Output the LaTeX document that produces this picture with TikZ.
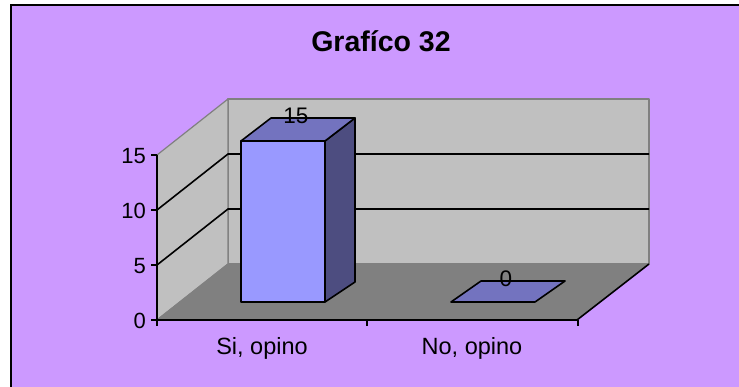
\documentclass[tikz,border=0pt]{standalone}
\usepackage{fontspec}
\setmainfont{Liberation Sans}

\definecolor{chartbg}{HTML}{CC99FF}
\definecolor{wallgray}{HTML}{C0C0C0}
\definecolor{floorgray}{HTML}{808080}
\definecolor{barfront}{HTML}{9999FF}
\definecolor{bartop}{HTML}{7373BF}
\definecolor{barside}{HTML}{4D4D80}

\tikzset{
  wall/.style={fill=wallgray, draw=gray, line width=1.2pt, line join=round},
  gridline/.style={black, line width=1.6pt},
  barface/.style={draw=black, line width=1.6pt, line join=round},
  ticklabel/.style={font=\fontsize{22}{22}\selectfont, inner sep=0pt},
  catlabel/.style={font=\fontsize{23.5}{23.5}\selectfont, inner sep=0pt, anchor=base},
  datalabel/.style={font=\fontsize{22.5}{22.5}\selectfont, inner sep=0pt}
}

\begin{document}
\begin{tikzpicture}[x=1pt, y=-1pt]
\useasboundingbox (0,0) rectangle (739,387);

% Chart area
\fill[white] (0,0) rectangle (739,387);
\fill[chartbg] (11,5) rectangle (739,387);
\draw[black, line width=2pt] (11,387) -- (11,5) -- (739,5);

\node[font=\bfseries\fontsize{28.5}{28.5}\selectfont, inner sep=0pt, anchor=base] (title) at (381,52) {Grafíco 32};

% Walls and floor
\filldraw[wall] (228,99) rectangle (649,264);
\filldraw[wall] (157,155) -- (228,99) -- (228,264) -- (157,320) -- cycle;
\fill[floorgray] (157,320) -- (228,264) -- (649,264) -- (577,320) -- cycle;
\draw[gray, line width=1.2pt] (157,320) -- (228,264);

% Loop to draw the gridlines
\foreach \v in {5,10} {
    \draw[gridline] (157,{320-11*\v}) -- (228,{264-11*\v}) -- (649,{264-11*\v});
}

% Axes
\draw[gridline] (157,155) -- (157,320) -- (577,320) -- (649,264);

% Loop to draw the value ticks and labels
\foreach \v in {0,5,10,15} {
    \draw[gridline] (151,{320-11*\v}) -- (157,{320-11*\v});
    \node[ticklabel, anchor=east] (ylab\v) at (146,{321-11*\v}) {\v};
}

% Category ticks
\foreach \x in {157,367,578} {
    \draw[gridline] (\x,320) -- (\x,326);
}

% Bar for Si, opino
\filldraw[barface, fill=barside] (325,141) -- (355,118) -- (355,282) -- (325,302) -- cycle;
\filldraw[barface, fill=bartop] (241,141) -- (271,118) -- (355,118) -- (325,141) -- cycle;
\filldraw[barface, fill=barfront] (241,141) rectangle (325,302);

% Bar for No, opino
\filldraw[barface, fill=bartop] (451,302) -- (481,281) -- (565,281) -- (535,302) -- cycle;

% Data labels
\node[datalabel] (val1) at (296,116) {15};
\node[datalabel] (val2) at (506,279) {0};

% Category labels
\node[catlabel] (cat1) at (262,354) {Si, opino};
\node[catlabel] (cat2) at (472,354) {No, opino};

\end{tikzpicture}
\end{document}
